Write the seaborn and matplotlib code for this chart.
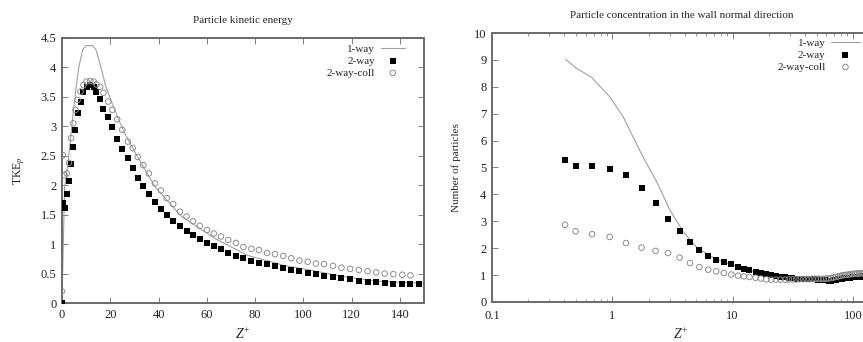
import matplotlib
matplotlib.use('Agg')
import matplotlib.pyplot as plt
import pandas as pd
import seaborn as sns
from matplotlib.ticker import MultipleLocator, LogLocator, FixedLocator, FuncFormatter, NullFormatter

sns.set_theme(style='ticks')
plt.rcParams['font.family'] = ['Liberation Serif', 'DejaVu Serif']
plt.rcParams['mathtext.fontset'] = 'custom'
plt.rcParams['mathtext.rm'] = 'Liberation Serif'
plt.rcParams['mathtext.it'] = 'Liberation Serif:italic'

# ---- left panel: particle kinetic energy ----
z_left = [0, 0.4, 1.1, 2.0, 2.9, 3.8, 4.7, 5.6, 6.5, 7.7, 8.9, 10.2, 11.7, 13.1, 14.3,
          15.8, 17.2, 19.2, 20.9, 22.9, 25.0, 27.3, 29.3, 31.4, 33.7, 36.0, 38.5, 41.0,
          43.4, 46.1, 48.9, 51.6, 54.3, 57.1, 60.1, 62.9, 65.9, 68.9, 72.1, 75.2, 78.5,
          81.6, 85.0, 88.3, 91.7, 95.0, 98.4, 101.8, 105.2, 108.6, 112.3, 115.8, 119.4,
          123.0, 126.6, 130.2, 133.7, 137.3, 141.0, 144.4, 147.8]
tke_2way = [0, 1.69, 1.61, 1.85, 2.08, 2.36, 2.65, 2.94, 3.23, 3.42, 3.58, 3.67, 3.70, 3.66,
            3.59, 3.47, 3.30, 3.16, 2.98, 2.79, 2.62, 2.46, 2.29, 2.13, 1.99, 1.85, 1.72,
            1.60, 1.50, 1.40, 1.31, 1.23, 1.15, 1.09, 1.02, 0.96, 0.91, 0.85, 0.80, 0.76,
            0.72, 0.68, 0.66, 0.63, 0.60, 0.56, 0.54, 0.51, 0.49, 0.46, 0.44, 0.42, 0.40,
            0.38, 0.36, 0.35, 0.34, 0.33, 0.33, 0.33, 0.33]
tke_coll = [0.2, 2.51, 2.17, 2.20, 2.38, 2.80, 3.05, 3.28, 3.45, 3.59, 3.70, 3.76, 3.77, 3.76,
            3.71, 3.67, 3.57, 3.42, 3.28, 3.12, 2.94, 2.74, 2.63, 2.48, 2.34, 2.20, 2.03,
            1.91, 1.78, 1.68, 1.55, 1.47, 1.39, 1.31, 1.24, 1.18, 1.13, 1.07, 1.02, 0.95,
            0.92, 0.90, 0.85, 0.83, 0.80, 0.76, 0.72, 0.70, 0.67, 0.66, 0.63, 0.60, 0.58,
            0.56, 0.54, 0.52, 0.50, 0.49, 0.48, 0.47]
z_left_1way = [0, 1.1, 2.5, 3.8, 4.8, 5.9, 7.0, 8.6, 10.0, 12.7, 14.1, 16.1, 18.2, 20.9, 23.6,
               26.4, 30.5, 34.5, 38.6, 43.4, 49.5, 63.2, 76.8, 91.8, 102.7, 116.4, 130.0,
               147.8, 150.0]
tke_1way = [0.0, 1.97, 2.37, 2.88, 3.28, 3.67, 4.01, 4.30, 4.37, 4.37, 4.30, 4.01, 3.67, 3.38,
            3.10, 2.85, 2.54, 2.26, 1.97, 1.75, 1.47, 1.10, 0.81, 0.64, 0.56, 0.45, 0.37,
            0.34, 0.33]

# ---- right panel: particle concentration ----
z_right = [0.405, 0.495, 0.679, 0.951, 1.30, 1.75, 2.29, 2.90, 3.63, 4.42, 5.29, 6.27, 7.31,
           8.44, 9.76, 11.1, 12.4, 13.8, 15.5, 17.2, 19.1, 20.9, 22.9, 25.0, 27.3, 29.3,
           31.4, 33.7, 36.0, 38.5, 41.0, 43.4, 46.1, 48.9, 51.6, 54.3, 57.1, 60.1, 62.9,
           65.9, 68.9, 72.1, 75.2, 78.5, 81.6, 85.0, 88.3, 91.7, 95.0, 98.4, 101.8, 105.2,
           108.6, 112.3, 115.8, 119.4, 123.0]
conc_2way = [5.27, 5.06, 5.07, 4.96, 4.73, 4.24, 3.69, 3.07, 2.63, 2.23, 1.92, 1.71, 1.57,
             1.47, 1.40, 1.30, 1.23, 1.18, 1.12, 1.07, 1.03, 1.00, 0.97, 0.94, 0.92, 0.90,
             0.88, 0.87, 0.86, 0.85, 0.85, 0.84, 0.84, 0.84, 0.83, 0.82, 0.81, 0.80, 0.79,
             0.79, 0.80, 0.82, 0.84, 0.86, 0.87, 0.88, 0.89, 0.90, 0.91, 0.92, 0.92, 0.93,
             0.93, 0.94, 0.94, 0.95, 0.95]
conc_coll = [2.87, 2.63, 2.52, 2.42, 2.19, 2.02, 1.90, 1.82, 1.65, 1.45, 1.30, 1.20, 1.14,
             1.08, 1.02, 0.98, 0.95, 0.93, 0.90, 0.87, 0.84, 0.83, 0.83, 0.83, 0.83, 0.84,
             0.84, 0.84, 0.85, 0.85, 0.85, 0.85, 0.86, 0.86, 0.86, 0.86, 0.86, 0.87, 0.88,
             0.89, 0.91, 0.93, 0.95, 0.97, 0.99, 1.00, 1.01, 1.02, 1.03, 1.04, 1.05, 1.05,
             1.06, 1.06, 1.07, 1.07, 1.08]
z_right_1way = [0.409, 0.502, 0.67, 0.951, 1.23, 1.49, 1.80, 2.32, 2.99, 3.87, 4.99, 6.0, 7.3,
                8.4, 9.8, 12.0, 15.0, 20.0, 30.0, 40.0, 55.0, 70.0, 90.0, 120.0, 147.0]
conc_1way = [9.02, 8.69, 8.36, 7.63, 6.89, 6.13, 5.39, 4.50, 3.45, 2.62, 2.05, 1.81, 1.59,
             1.48, 1.40, 1.25, 1.13, 1.01, 0.90, 0.86, 0.83, 0.81, 0.88, 0.96, 1.00]

line_col = '#a0a0a0'
circ_col = '#8c8c8c'
spine_col = '#6a6a6a'

fig = plt.figure(figsize=(8.63, 3.42), dpi=100)
ax1 = fig.add_axes([0.0718, 0.114, 0.4195, 0.775])
ax2 = fig.add_axes([0.5701, 0.117, 0.4386, 0.7865])


def draw_series(ax, z1, y1, z2, y2, z3, y3):
    sns.lineplot(x=z1, y=y1, ax=ax, color=line_col, linewidth=0.8, label='1-way',
                 estimator=None, sort=False)
    sns.scatterplot(x=z2, y=y2, ax=ax, marker='s', s=14, color='black',
                    edgecolor='black', linewidth=0, label='2-way', zorder=3)
    sns.scatterplot(x=z3, y=y3, ax=ax, marker='o', s=16, facecolor='none',
                    edgecolor=circ_col, linewidth=0.7, label='2-way-coll', zorder=3)


def style_axes(ax):
    for sp in ax.spines.values():
        sp.set_visible(True)
        sp.set_color(spine_col)
        sp.set_linewidth(1.4)
    ax.tick_params(which='both', direction='in', top=True, right=True,
                   color=spine_col, labelsize=9, labelcolor='#222222', pad=4)
    ax.tick_params(which='major', length=4, width=0.6)
    ax.tick_params(which='minor', length=2, width=0.5)


# left panel
draw_series(ax1, z_left_1way, tke_1way, z_left, tke_2way, z_left[:len(tke_coll)], tke_coll)
ax1.set_xlim(0, 150)
ax1.set_ylim(0, 4.5)
ax1.xaxis.set_major_locator(MultipleLocator(20))
ax1.yaxis.set_major_locator(MultipleLocator(0.5))
ax1.yaxis.set_major_formatter(FuncFormatter(lambda v, p: '%g' % v))
style_axes(ax1)
ax1.set_title('Particle kinetic energy', fontsize=8, pad=11)
ax1.set_xlabel(r'$Z^{+}$', fontsize=10)
ax1.set_ylabel(r'TKE$_p$', fontsize=8.5)
ax1.xaxis.set_label_coords(0.5, -0.09)
ax1.yaxis.set_label_coords(-0.097, 0.5)
ax1.legend(loc='upper right', bbox_to_anchor=(0.9475, 0.977), frameon=False,
           markerfirst=False, fontsize=8, handlelength=2.2, handletextpad=0.5,
           labelspacing=0.2, borderpad=0, borderaxespad=0, scatterpoints=1)

# right panel
draw_series(ax2, z_right_1way, conc_1way, z_right, conc_2way, z_right, conc_coll)
ax2.set_xscale('log')
ax2.set_xlim(0.1, 140)
ax2.set_ylim(0, 10)
ax2.xaxis.set_major_locator(FixedLocator([0.1, 1, 10, 100]))
ax2.xaxis.set_major_formatter(FuncFormatter(lambda v, p: '%g' % v))
ax2.xaxis.set_minor_locator(LogLocator(base=10, subs=[2, 3, 4, 5, 6, 7, 8, 9]))
ax2.xaxis.set_minor_formatter(NullFormatter())
ax2.yaxis.set_major_locator(MultipleLocator(1))
style_axes(ax2)
ax2.tick_params(axis='x', pad=6)
ax2.set_title('Particle concentration in the wall normal direction', fontsize=8, pad=11)
ax2.set_xlabel(r'$Z^{+}$', fontsize=10)
ax2.set_ylabel('Number of particles', fontsize=8)
ax2.xaxis.set_label_coords(0.5, -0.093)
ax2.yaxis.set_label_coords(-0.083, 0.5)
ax2.legend(loc='upper right', bbox_to_anchor=(0.972, 0.981), frameon=False,
           markerfirst=False, fontsize=8, handlelength=2.6, handletextpad=0.5,
           labelspacing=0.2, borderpad=0, borderaxespad=0, scatterpoints=1)

fig.savefig('out.png', dpi=100)
